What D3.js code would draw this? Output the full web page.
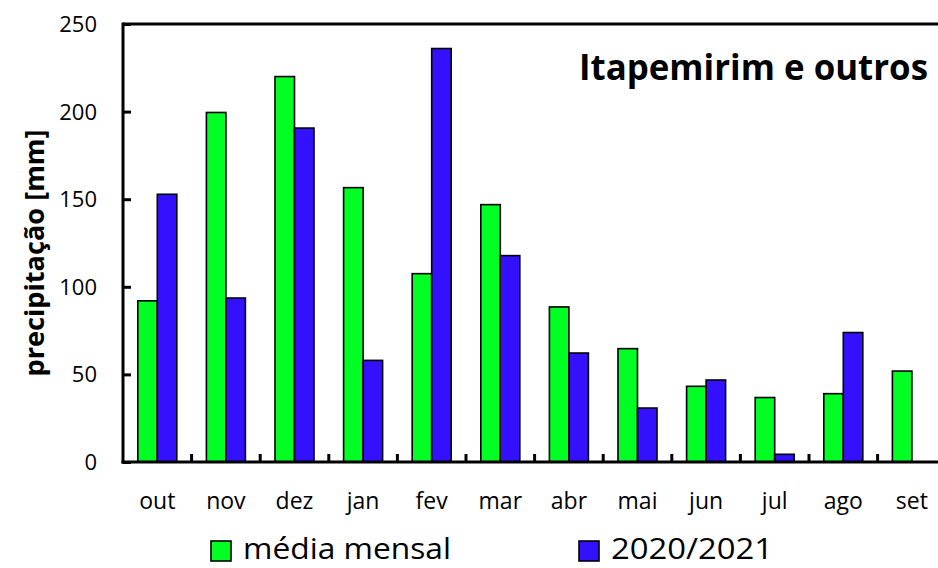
<!DOCTYPE html>
<html><head><meta charset="utf-8">
<script src="https://cdn.jsdelivr.net/npm/d3@7"></script>
<style>body{margin:0;background:#fff}svg{display:block}text{font-family:"Open Sans",sans-serif;fill:#000}</style>
</head><body>
<svg id="c" width="938" height="568"></svg>
<script>
const months = ["out","nov","dez","jan","fev","mar","abr","mai","jun","jul","ago","set"];
const mediaMensal = [92, 199.5, 220, 156.6, 107.5, 146.9, 88.5, 64.7, 43.2, 36.8, 39, 51.9];
const ano2020 = [152.8, 93.6, 190.6, 58, 236, 117.8, 62.2, 30.8, 46.8, 4.4, 73.9, null];
const seriesNames = ["média mensal", "2020/2021"];
const seriesColors = ["#00ff22", "#3311ff"];
const yTicks = [0, 50, 100, 150, 200, 250];
const chartTitle = "Itapemirim e outros";
const yLabel = "precipitação [mm]";

(function () {
const svg = d3.select("#c");
const pl = 123, pt = 24, pb = 462, catW = 68.6;
const pr = pl + catW * months.length;
const x = d3.scaleBand().domain(months).range([pl, pr]).paddingInner(0).paddingOuter(0);
const y = d3.scaleLinear().domain([0, 250]).range([pb, pt]);
const barW = 19.5;

const series = [mediaMensal, ano2020];
series.forEach((vals, si) => {
  svg.append("g").selectAll("rect")
    .data(vals.map((v, i) => ({v, m: months[i]})).filter(d => d.v != null))
    .join("rect")
    .attr("x", d => x(d.m) + x.bandwidth() / 2 - barW + si * barW)
    .attr("y", d => y(d.v))
    .attr("width", barW)
    .attr("height", d => y(0) - y(d.v))
    .attr("fill", seriesColors[si])
    .attr("stroke", "#000")
    .attr("stroke-width", 1.6);
});

svg.append("line").attr("x1", pl).attr("x2", pr).attr("y1", pt).attr("y2", pt)
  .attr("stroke", "#000").attr("stroke-width", 3);

const yAxis = d3.axisRight(y).tickValues(yTicks).tickSize(8).tickFormat("");
const gy = svg.append("g").attr("transform", `translate(${pl},0)`).call(yAxis);
gy.select(".domain").remove();
gy.selectAll(".tick line").attr("stroke", "#000").attr("stroke-width", 3);
svg.append("line").attr("x1", pl).attr("x2", pl).attr("y1", pt - 1.5).attr("y2", pb + 1.5)
  .attr("stroke", "#000").attr("stroke-width", 3);
svg.append("g").selectAll("text").data(yTicks).join("text")
  .attr("x", 97).attr("y", d => y(d)).attr("dy", "0.36em")
  .attr("text-anchor", "end").attr("font-size", 22).text(d => d);

const sep = months.slice(1).map(m => x(m));
svg.append("g").selectAll("line").data(sep).join("line")
  .attr("x1", d => d).attr("x2", d => d).attr("y1", pb).attr("y2", pb - 8)
  .attr("stroke", "#000").attr("stroke-width", 3);
svg.append("line").attr("x1", pl - 1.5).attr("x2", pr).attr("y1", pb).attr("y2", pb)
  .attr("stroke", "#000").attr("stroke-width", 3);
const xAxis = d3.axisBottom(x).tickSize(0).tickPadding(0);
const gx = svg.append("g").attr("transform", `translate(0,${pb})`).call(xAxis);
gx.select(".domain").remove();
gx.selectAll("text").attr("y", 47).attr("dy", 0).attr("font-size", 23)
  .attr("font-family", "'Open Sans',sans-serif").attr("fill", "#000");

svg.append("text").attr("x", 579).attr("y", 80)
  .attr("font-size", 36).attr("font-weight", "bold")
  .attr("textLength", 349).attr("lengthAdjust", "spacingAndGlyphs").text(chartTitle);

svg.append("text").attr("transform", "translate(44,253) rotate(-90)")
  .attr("text-anchor", "middle").attr("font-size", 27).attr("font-weight", "bold")
  .attr("textLength", 247).attr("lengthAdjust", "spacingAndGlyphs").text(yLabel);

const legX = [211, 579];
const legW = [208, 162];
seriesNames.forEach((n, i) => {
  svg.append("rect").attr("x", legX[i]).attr("y", 541).attr("width", 20).attr("height", 20)
    .attr("fill", seriesColors[i]).attr("stroke", "#000").attr("stroke-width", 1.6);
  svg.append("text").attr("x", legX[i] + 32).attr("y", 559).attr("font-size", 29)
    .attr("textLength", legW[i]).attr("lengthAdjust", "spacingAndGlyphs").text(n);
});
})();
</script>
</body></html>
